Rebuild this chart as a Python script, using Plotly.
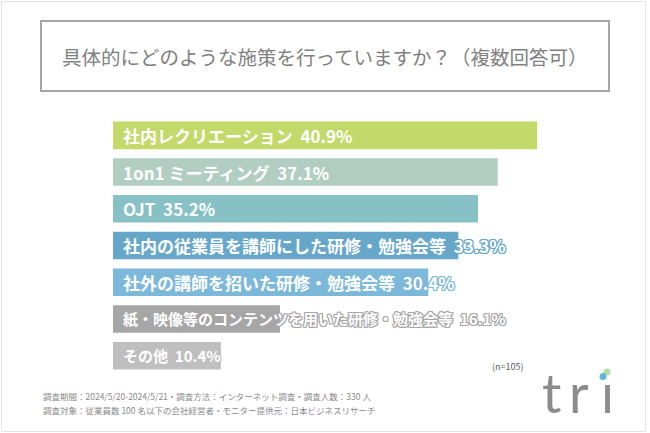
import plotly.graph_objects as go

categories = [
    "社内レクリエーション",
    "1on1 ミーティング",
    "OJT",
    "社内の従業員を講師にした研修・勉強会等",
    "社外の講師を招いた研修・勉強会等",
    "紙・映像等のコンテンツを用いた研修・勉強会等",
    "その他",
]
values = [40.9, 37.1, 35.2, 33.3, 30.4, 16.1, 10.4]
value_labels = ["40.9%", "37.1%", "35.2%", "33.3%", "30.4%", "16.1%", "10.4%"]

title_text = "具体的にどのような施策を行っていますか？（複数回答可）"
note_n = "(n=105)"
footer_lines = [
    "調査期間：2024/5/20-2024/5/21・調査方法：インターネット調査・調査人数：330 人",
    "調査対象：従業員数 100 名以下の会社経営者・モニター提供元：日本ビジネスリサーチ",
]

# styles
colors = ["#c3d969", "#b2cec3", "#87c1c6", "#66a7c9", "#7cb8d9", "#a6a6a6", "#bfbfbf"]
label_font_sizes = [17, 17, 17, 17, 17, 15, 15]

W_FIG, H_FIG = 650, 433
L, R, T, B = 113, 18, 117, 59
PW = W_FIG - L - R
PH = H_FIG - T - B
XMAX = PW / 10.37
JP = "Noto Sans CJK JP"


def px(x):
    return (x - L) / PW


def py(y):
    return 1 - (y - T) / PH


def outline(c):
    offs = [(1, 0), (-1, 0), (0, 1), (0, -1), (1, 1), (-1, -1), (1, -1), (-1, 1)]
    return ", ".join(f"{a}px {b}px 0 {c}" for a, b in offs)


fig = go.Figure()
fig.add_trace(go.Bar(
    x=values, y=categories, orientation="h",
    marker=dict(color=colors, line=dict(width=0)),
    width=0.75, hoverinfo="skip", showlegend=False,
))

annotations = []
for cat, lab, col, fs in zip(categories, value_labels, colors, label_font_sizes):
    annotations.append(dict(
        x=0, y=cat, xref="x", yref="y", xanchor="left", yanchor="middle",
        xshift=8, showarrow=False,
        text=f"{cat}\u00a0\u00a0{lab}",
        font=dict(family=JP, size=fs, color="white", weight=700, shadow=outline(col)),
    ))

annotations.append(dict(
    x=px(325), y=py(57), xref="paper", yref="paper", xanchor="center", yanchor="middle",
    showarrow=False, text=title_text,
    font=dict(family=JP, size=19.5, color="#7f7f7f"),
))
annotations.append(dict(
    x=px(490), y=py(366), xref="paper", yref="paper", xanchor="left", yanchor="middle",
    showarrow=False, text=note_n,
    font=dict(family=JP, size=9, color="#595959"),
))
for i, line in enumerate(footer_lines):
    annotations.append(dict(
        x=px(41), y=py(396 + 13.5 * i), xref="paper", yref="paper", xanchor="left", yanchor="middle",
        showarrow=False, text=line,
        font=dict(family=JP, size=8.5, color="#8a8a8a"),
    ))

# logo letters
for ch, cx in [("t", 551), ("r", 579), ("ı", 607)]:
    annotations.append(dict(
        x=px(cx), y=py(392), xref="paper", yref="paper", xanchor="center", yanchor="middle",
        showarrow=False, text=ch,
        font=dict(family="Lato", size=54, color="#8c8c8c", weight=400),
    ))

shapes = [
    dict(type="rect", xref="paper", yref="paper", x0=px(1.5), x1=px(645.5), y0=py(1.5), y1=py(431.5),
         line=dict(color="#e4e4e4", width=1), layer="below"),
    dict(type="rect", xref="paper", yref="paper", x0=px(41), x1=px(609), y0=py(21), y1=py(91),
         line=dict(color="#a6a6a6", width=2)),
    dict(type="circle", xref="paper", yref="paper", x0=px(603.5), x1=px(610.5), y0=py(368.5), y1=py(375.5),
         fillcolor="#b5dca0", line=dict(width=0)),
    dict(type="circle", xref="paper", yref="paper", x0=px(599.5), x1=px(606.5), y0=py(373), y1=py(380),
         fillcolor="#5fb6d6", line=dict(width=0)),
]

fig.update_layout(
    width=W_FIG, height=H_FIG,
    margin=dict(l=L, r=R, t=T, b=B, pad=0),
    paper_bgcolor="white", plot_bgcolor="white",
    xaxis=dict(range=[0, XMAX], visible=False, fixedrange=True),
    yaxis=dict(range=[6.5, -0.5], visible=False, fixedrange=True, type="category",
               categoryorder="array", categoryarray=categories),
    annotations=annotations, shapes=shapes,
    bargap=0.25, showlegend=False,
)

fig.write_html(
    "out.html",
    config={"displayModeBar": False},
    post_script="document.body.style.margin='0';document.body.style.overflow='hidden';",
)
